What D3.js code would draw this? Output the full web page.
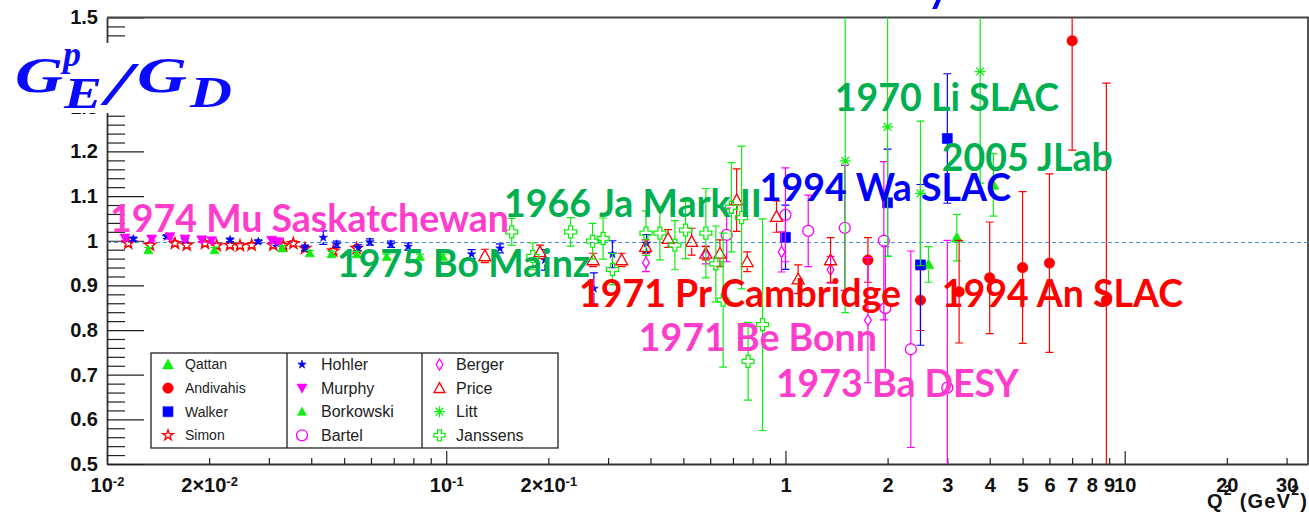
<!DOCTYPE html>
<html>
<head>
<meta charset="utf-8">
<script src="https://cdn.jsdelivr.net/npm/d3@7"></script>
<style>
  html, body { margin: 0; padding: 0; background: #fff; }
  svg { display: block; }
</style>
</head>
<body>
<svg id="chart" width="1309" height="516"></svg>
<script>
// ---------- data: proton G_E / G_D versus Q^2 (GeV^2) ----------
const qattanQ2 = [2.64, 3.2, 4.1];
const qattanVal = [0.947, 1.007, 1.125];
const qattanErr = [0.04, 0.052, 0.07];

const andivahisQ2 = [1.75, 2.5, 3.25, 4.0, 5.0, 6.0, 7.0, 8.83];
const andivahisVal = [0.957, 0.867, 0.886, 0.917, 0.940, 0.950, 1.448, 0.867];
const andivahisErr = [0.05, 0.068, 0.115, 0.125, 0.17, 0.2, 0.245, 0.486];

const walkerQ2 = [1.0, 2.0, 2.5, 3.0];
const walkerVal = [1.008, 1.085, 0.946, 1.229];
const walkerErr = [0.072, 0.12, 0.18, 0.145];

const simonQ2 = [0.01155, 0.01339, 0.01586, 0.01718, 0.01945, 0.02105, 0.02305, 0.02466, 0.0267, 0.03091, 0.03308, 0.03541, 0.03834, 0.04645, 0.05444];
const simonVal = [0.994, 0.990, 0.994, 0.990, 0.994, 0.989, 0.990, 0.989, 0.990, 0.990, 0.989, 0.994, 0.983, 0.977, 0.983];
const simonErr = [0.006, 0.006, 0.006, 0.006, 0.006, 0.006, 0.006, 0.006, 0.006, 0.006, 0.006, 0.006, 0.006, 0.006, 0.006];

const hohlerQ2 = [0.01195, 0.0150, 0.01698, 0.02305, 0.02792, 0.03163, 0.03834, 0.0434, 0.04753, 0.05503, 0.05959, 0.06871, 0.07727, 0.1188, 0.144, 0.1954, 0.2724, 0.309, 0.3896];
const hohlerVal = [1.004, 1.009, 1.002, 1.002, 0.998, 0.994, 0.984, 1.007, 0.992, 0.984, 0.997, 0.992, 0.987, 0.970, 0.983, 0.957, 0.893, 0.970, 0.994];
const hohlerErr = [0.004, 0.004, 0.004, 0.004, 0.004, 0.005, 0.006, 0.015, 0.007, 0.007, 0.007, 0.007, 0.008, 0.01, 0.01, 0.023, 0.035, 0.03, 0.02];

const murphyQ2 = [0.0113, 0.01354, 0.01534, 0.01698, 0.01902, 0.02035, 0.03058, 0.03198];
const murphyVal = [1.006, 1.004, 1.009, 1.004, 1.002, 1.0, 1.001, 0.998];
const murphyErr = [0.005, 0.005, 0.005, 0.005, 0.005, 0.005, 0.005, 0.005];

const borkowskiQ2 = [0.01324, 0.02073, 0.03283, 0.03962, 0.0459, 0.05444, 0.06672, 0.08366, 0.0978];
const borkowskiVal = [0.979, 0.979, 0.983, 0.972, 0.970, 0.970, 0.964, 0.964, 0.964];
const borkowskiErr = [0.006, 0.006, 0.006, 0.006, 0.006, 0.006, 0.006, 0.006, 0.006];

const bartelQ2 = [0.671, 1.0, 1.167, 1.496, 1.95, 1.97, 2.342, 3.0];
const bartelVal = [1.013, 1.058, 1.022, 1.029, 1.0, 0.849, 0.757, 0.671];
const bartelErr = [0.06, 0.105, 0.08, 0.14, 0.177, 0.138, 0.22, 0.33];

const bergerQ2 = [0.388, 0.5825, 0.974, 1.358, 1.75];
const bergerVal = [0.951, 0.968, 0.975, 0.935, 0.822];
const bergerErr = [0.02, 0.02, 0.045, 0.03, 0.14];

const priceQ2 = [0.130, 0.189, 0.271, 0.329, 0.387, 0.451, 0.529, 0.5825, 0.641, 0.718, 0.771, 0.941, 1.09, 1.358];
const priceVal = [0.966, 0.975, 0.957, 0.957, 0.987, 1.005, 0.998, 0.972, 0.972, 1.091, 0.953, 1.054, 0.914, 0.957];
const priceErr = [0.015, 0.015, 0.015, 0.015, 0.015, 0.02, 0.03, 0.015, 0.03, 0.07, 0.022, 0.035, 0.032, 0.05];

const littQ2 = [1.5, 2.0, 2.5, 3.75];
const littVal = [1.179, 1.255, 1.106, 1.379];
const littErr = [0.34, 0.29, 0.162, 0.25];

const janssensQ2 = [0.156, 0.18, 0.2326, 0.27, 0.29, 0.309, 0.388, 0.4264, 0.472, 0.5077, 0.5825, 0.6235, 0.655, 0.693, 0.7424, 0.776, 0.856];
const janssensVal = [1.020, 0.965, 1.020, 0.999, 1.005, 0.936, 1.017, 1.017, 0.990, 1.024, 1.017, 0.948, 0.867, 1.075, 1.052, 0.730, 0.812];
const janssensErr = [0.03, 0.03, 0.032, 0.04, 0.046, 0.035, 0.05, 0.06, 0.055, 0.064, 0.1, 0.085, 0.15, 0.1, 0.16, 0.087, 0.237];

// reference level of the dashed line
const referenceLevel = 0.996;

// axis tick labels
const xLabelValues = [0.01, 0.02, 0.1, 0.2, 1, 2, 3, 4, 5, 6, 7, 8, 9, 10, 20, 30];
const xLabelText = ["10^-2", "2\u00d710^-2", "10^-1", "2\u00d710^-1", "1", "2", "3", "4", "5", "6", "7", "8", "9", "10", "20", "30"];
const yLabelValues = [0.5, 0.6, 0.7, 0.8, 0.9, 1.0, 1.1, 1.2, 1.3, 1.4, 1.5];
const yLabelText = ["0.5", "0.6", "0.7", "0.8", "0.9", "1", "1.1", "1.2", "1.3", "1.4", "1.5"];

// experiment annotations (anchored in data coordinates)
const noteText = ["1974 Mu Saskatchewan", "1975 Bo Mainz", "1966 Ja Mark II", "1994 Wa SLAC", "1970 Li SLAC", "2005 JLab", "1971 Pr Cambridge", "1994 An SLAC", "1971 Be Bonn", "1973 Ba DESY"];
const noteQ2 = [0.01021, 0.04763, 0.1479, 0.8404, 1.398, 2.891, 0.2461, 2.891, 0.3697, 0.937];
const noteVal = [1.0207, 0.9177, 1.0539, 1.089, 1.2913, 1.1562, 0.8523, 0.8516, 0.752, 0.6507];
const noteColor = ["#ff3dcc", "#00b050", "#00b050", "#0000ff", "#00b050", "#00b050", "#ff0000", "#ff0000", "#ff3dcc", "#ff3dcc"];

// ---------- series configuration ----------
const GREEN = "#10ee10", RED = "#ff0000", BLUE = "#0000ff", MAGENTA = "#ff00ff";
const series = [
  { name: "Qattan",    q2: qattanQ2,    val: qattanVal,    err: qattanErr,    color: GREEN,   marker: "triUp",    filled: true,  size: 11 },
  { name: "Andivahis", q2: andivahisQ2, val: andivahisVal, err: andivahisErr, color: RED,     marker: "circle",   filled: true,  size: 10.5 },
  { name: "Walker",    q2: walkerQ2,    val: walkerVal,    err: walkerErr,    color: BLUE,    marker: "square",   filled: true,  size: 10 },
  { name: "Simon",     q2: simonQ2,     val: simonVal,     err: simonErr,     color: RED,     marker: "star",     filled: false, size: 12 },
  { name: "Hohler",    q2: hohlerQ2,    val: hohlerVal,    err: hohlerErr,    color: BLUE,    marker: "star",     filled: true,  size: 9 },
  { name: "Murphy",    q2: murphyQ2,    val: murphyVal,    err: murphyErr,    color: MAGENTA, marker: "triDown",  filled: true,  size: 10 },
  { name: "Borkowski", q2: borkowskiQ2, val: borkowskiVal, err: borkowskiErr, color: GREEN,   marker: "triUp",    filled: true,  size: 9 },
  { name: "Bartel",    q2: bartelQ2,    val: bartelVal,    err: bartelErr,    color: MAGENTA, marker: "circle",   filled: false, size: 11 },
  { name: "Berger",    q2: bergerQ2,    val: bergerVal,    err: bergerErr,    color: MAGENTA, marker: "diamond",  filled: false, size: 11 },
  { name: "Price",     q2: priceQ2,     val: priceVal,     err: priceErr,     color: RED,     marker: "triUp",    filled: false, size: 12 },
  { name: "Litt",      q2: littQ2,      val: littVal,      err: littErr,      color: GREEN,   marker: "asterisk", filled: false, size: 11 },
  { name: "Janssens",  q2: janssensQ2,  val: janssensVal,  err: janssensErr,  color: GREEN,   marker: "cross",    filled: false, size: 12 }
];

// ---------- scales ----------
const svg = d3.select("#chart");
const x = d3.scaleLog().domain([0.01, 34.7]).range([107, 1308]);
const y = d3.scaleLinear().domain([0.5, 1.5]).range([464, 17.5]);
const [px0, px1] = x.range();
const [py0, py1] = y.range();

svg.append("rect").attr("width", 1309).attr("height", 516).attr("fill", "#fff");

svg.append("defs").append("clipPath").attr("id", "plotClip")
  .append("rect").attr("x", px0).attr("y", py1).attr("width", px1 - px0).attr("height", py0 - py1);

// ---------- marker shapes ----------
function markerPath(kind, s) {
  const h = s / 2;
  switch (kind) {
    case "triUp":   return `M0,${-h}L${h},${h * 0.8}L${-h},${h * 0.8}Z`;
    case "triDown": return `M0,${h}L${h},${-h * 0.8}L${-h},${-h * 0.8}Z`;
    case "square":  return `M${-h},${-h}H${h}V${h}H${-h}Z`;
    case "circle":  return d3.symbol(d3.symbolCircle, Math.PI * h * h)();
    case "diamond": return `M0,${-h}L${h * 0.62},0L0,${h}L${-h * 0.62},0Z`;
    case "star":    return d3.symbol(d3.symbolStar, (h * h) / 0.8908)();
    case "asterisk": {
      const a = h * 0.707;
      return `M${-h},0H${h}M0,${-h}V${h}M${-a},${-a}L${a},${a}M${-a},${a}L${a},${-a}`;
    }
    case "cross": {
      const t = s / 6;
      return `M${-t},${-h}H${t}V${-t}H${h}V${t}H${t}V${h}H${-t}V${t}H${-h}V${-t}H${-t}Z`;
    }
  }
}
function styleMarker(sel, d) {
  if (d.filled) sel.attr("fill", d.color).attr("stroke", d.color).attr("stroke-width", 0.6);
  else sel.attr("fill", "none").attr("stroke", d.color).attr("stroke-width", 1.3);
}

// ---------- axes ----------
const decades = [0.01, 0.1, 1, 10];
const xTickValues = [];
decades.forEach(dec => { for (let m = 1; m <= 9; m++) { const v = dec * m; if (v <= 34.7) xTickValues.push(v); } });
const near = (a, b) => Math.abs(a - b) <= 1e-9 * Math.max(a, b);

const xAxis = d3.axisBottom(x)
  .tickValues(xTickValues)
  .tickSizeInner(-6).tickSizeOuter(0).tickPadding(14)
  .tickFormat(v => { const i = xLabelValues.findIndex(u => near(u, v)); return i >= 0 ? xLabelText[i] : ""; });

const gx = svg.append("g").attr("transform", `translate(0,${py0})`).call(xAxis)
  .attr("font-family", "'Liberation Sans', Arial, sans-serif").attr("font-size", 20).attr("font-weight", "bold");
gx.select(".domain").attr("stroke", "#333").attr("stroke-width", 1.8);
gx.selectAll(".tick line").attr("stroke", "#222").attr("stroke-width", 1.2)
  .filter(d => decades.some(u => near(u, d))).attr("y2", -13);
gx.selectAll(".tick text").attr("fill", "#111").each(function () {
  const t = d3.select(this);
  const s = t.text();
  if (s.includes("^")) {
    const [base, exp] = s.split("^");
    t.text(null);
    t.append("tspan").text(base);
    t.append("tspan").attr("font-size", 13).attr("dy", "-0.5em").text(exp);
  }
});

const yTickValues = d3.range(51).map(i => +(0.5 + i * 0.02).toFixed(2));
const yAxis = d3.axisLeft(y)
  .tickValues(yTickValues)
  .tickSizeInner(-18).tickSizeOuter(0).tickPadding(9)
  .tickFormat(v => { const i = yLabelValues.findIndex(u => Math.abs(u - v) < 1e-6); return i >= 0 ? yLabelText[i] : ""; });
const gy = svg.append("g").attr("transform", `translate(${px0},0)`).call(yAxis)
  .attr("font-family", "'Liberation Sans', Arial, sans-serif").attr("font-size", 20).attr("font-weight", "bold");
gy.select(".domain").attr("stroke", "#333").attr("stroke-width", 1.8);
gy.selectAll(".tick line").attr("stroke", "#222").attr("stroke-width", 1.2)
  .filter(d => yLabelValues.some(u => Math.abs(u - d) < 1e-6)).attr("x2", 37);
gy.selectAll(".tick text").attr("fill", "#111");

// frame top and right
svg.append("path")
  .attr("d", `M${px0},${py1}H${px1}V${py0}`)
  .attr("fill", "none").attr("stroke", "#444").attr("stroke-width", 1.8);

// ---------- reference line ----------
svg.append("line")
  .attr("x1", px0).attr("x2", px1)
  .attr("y1", y(referenceLevel)).attr("y2", y(referenceLevel))
  .attr("stroke", "#4a8fd6").attr("stroke-width", 1.1).attr("stroke-dasharray", "4,3");

// ---------- data points with error bars ----------
const plot = svg.append("g").attr("clip-path", "url(#plotClip)");
series.forEach(s => {
  const g = plot.append("g");
  const pts = s.q2.map((q, i) => ({ q, v: s.val[i], e: s.err[i] }));
  const r = s.size / 2;
  const cap = 4;
  pts.forEach(p => {
    const cx = x(p.q), cy = y(p.v), yt = y(p.v + p.e), yb = y(p.v - p.e);
    let d = "";
    if (cy - r > yt) d += `M${cx},${yt}V${cy - r}`;
    if (cy + r < yb) d += `M${cx},${cy + r}V${yb}`;
    d += `M${cx - cap},${yt}H${cx + cap}M${cx - cap},${yb}H${cx + cap}`;
    g.append("path").attr("d", d).attr("fill", "none").attr("stroke", s.color).attr("stroke-width", 1.2);
  });
  g.selectAll(".m").data(pts).join("path")
    .attr("d", markerPath(s.marker, s.size))
    .attr("transform", p => `translate(${x(p.q)},${y(p.v)})`)
    .call(sel => styleMarker(sel, s));
});

// ---------- annotations ----------
svg.append("g")
  .attr("font-family", "Lato, 'Open Sans', sans-serif").attr("font-weight", 700).attr("font-size", 37.5)
  .selectAll("text").data(noteText).join("text")
  .attr("x", (d, i) => x(noteQ2[i]))
  .attr("y", (d, i) => y(noteVal[i]))
  .attr("fill", (d, i) => noteColor[i])
  .text(d => d);

// descender of the heading above the frame
svg.append("text").attr("x", 925).attr("y", -1)
  .attr("font-family", "Lato, sans-serif").attr("font-weight", 400).attr("font-size", 56)
  .attr("fill", "#0000ff").text("y");

// ---------- legend ----------
const legend = svg.append("g");
const lgX = [151, 287, 422, 558], lgY0 = 353, lgY1 = 448;
legend.append("rect").attr("x", lgX[0]).attr("y", lgY0).attr("width", lgX[3] - lgX[0]).attr("height", lgY1 - lgY0)
  .attr("fill", "#fff").attr("stroke", "#222").attr("stroke-width", 1.3);
legend.append("path").attr("d", `M${lgX[1]},${lgY0}V${lgY1}M${lgX[2]},${lgY0}V${lgY1}`)
  .attr("stroke", "#222").attr("stroke-width", 1.3);
const colMarkerX = [168, 302, 439.5], colTextX = [185, 321, 456], colFont = [14, 16, 16];
series.forEach((s, k) => {
  const col = Math.floor(k / 4), row = k % 4;
  const cy = lgY0 + 11.5 + row * 23.6;
  legend.append("path")
    .attr("d", markerPath(s.marker, Math.min(s.size, 11)))
    .attr("transform", `translate(${colMarkerX[col]},${cy})`)
    .call(sel => styleMarker(sel, s));
  legend.append("text").attr("x", colTextX[col]).attr("y", cy).attr("dy", "0.35em")
    .attr("font-family", "'Liberation Sans', Arial, sans-serif").attr("font-size", colFont[col])
    .attr("fill", "#222").text(s.name);
});

// ---------- axis titles ----------
const qt = svg.append("text").attr("x", 1307).attr("y", 508).attr("text-anchor", "end")
  .attr("font-family", "'Liberation Sans', Arial, sans-serif").attr("font-size", 20).attr("font-weight", "bold")
  .attr("fill", "#111").attr("textLength", 100).attr("lengthAdjust", "spacing");
qt.append("tspan").text("Q");
qt.append("tspan").attr("font-size", 14).attr("dy", -13).text("2");
qt.append("tspan").attr("dy", 13).text(" (GeV");
qt.append("tspan").attr("font-size", 14).attr("dy", -13).text("2");
qt.append("tspan").attr("dy", 13).text(")");

const yt = svg.append("g").attr("fill", "#0a0aff")
  .attr("font-family", "'Liberation Serif', 'DejaVu Serif', serif").attr("font-style", "italic").attr("font-weight", "bold");
yt.append("rect").attr("x", 0).attr("y", 43).attr("width", 236).attr("height", 70).attr("fill", "#fff");
const piece = (t, px, py, fs, len) => yt.append("text").attr("x", px).attr("y", py).attr("font-size", fs)
  .attr("textLength", len).attr("lengthAdjust", "spacingAndGlyphs").text(t);
piece("G", 15, 92, 51, 48);
piece("p", 63, 66, 36, 18);
piece("E", 64, 108, 44, 38);
piece("/", 106, 104, 62, 26);
piece("G", 137, 92, 51, 50);
piece("D", 190, 107, 44, 42);
</script>
</body>
</html>
